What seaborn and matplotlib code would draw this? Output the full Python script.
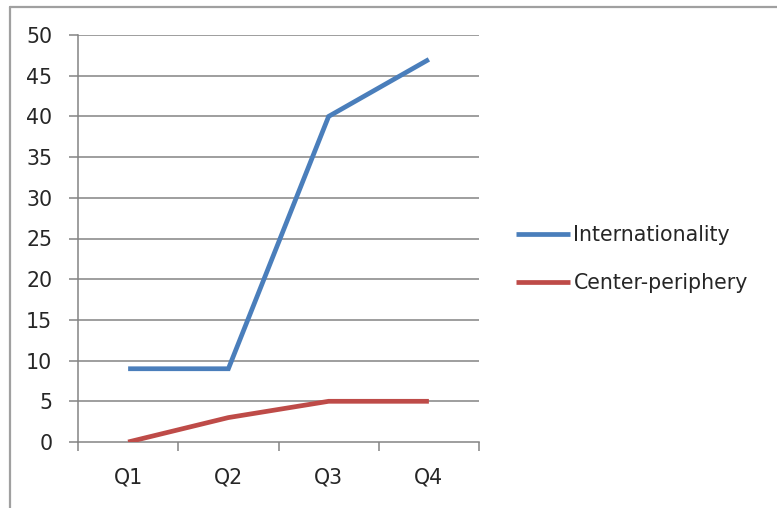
import matplotlib
matplotlib.use("Agg")
import matplotlib.pyplot as plt
from matplotlib.lines import Line2D
from matplotlib.ticker import FixedLocator, NullFormatter
import seaborn as sns
import pandas as pd

# Quarterly scores for the two indicators
quarters = ["Q1", "Q2", "Q3", "Q4"]
internationality = [9, 9, 40, 47]
center_periphery = [0, 3, 5, 5]
series_names = ["Internationality", "Center-periphery"]
y_ticks = [0, 5, 10, 15, 20, 25, 30, 35, 40, 45, 50]

palette = {"Internationality": "#4A7EBB", "Center-periphery": "#BE4B48"}

df = pd.DataFrame({
    "pos": list(range(len(quarters))) * 2,
    "quarter": quarters * 2,
    "value": internationality + center_periphery,
    "series": [series_names[0]] * len(quarters) + [series_names[1]] * len(quarters),
})

sns.set_theme(style="white")
plt.rcParams["font.family"] = ["DejaVu Sans"]

W, H, DPI = 777, 508, 100
fig = plt.figure(figsize=(W / DPI, H / DPI), dpi=DPI)
fig.patch.set_facecolor("white")

# plot area in pixels: x 78..479, y 35..442
left, right, top, bottom = 78, 479, 35, 442
ax = fig.add_axes([left / W, 1 - bottom / H, (right - left) / W, (bottom - top) / H])

grid_color = "#848484"
text_color = "#262626"
fs = 14.8
lw = 3.4
for yv in y_ticks[1:]:
    ax.axhline(yv, color=grid_color, lw=1.1, zorder=1)

sns.lineplot(data=df, x="pos", y="value", hue="series", palette=palette,
             hue_order=series_names, linewidth=lw, ax=ax, legend=False,
             zorder=3)
for ln in ax.lines:
    ln.set_solid_capstyle("butt")
    ln.set_solid_joinstyle("miter")

ax.set_xlim(-0.5, len(quarters) - 0.5)
ax.set_ylim(0, 50)
ax.set_xlabel("")
ax.set_ylabel("")

# category labels centered, ticks at category boundaries
ax.set_xticks(range(len(quarters)))
ax.set_xticklabels(quarters)
ax.xaxis.set_minor_locator(FixedLocator([i - 0.5 for i in range(len(quarters) + 1)]))
ax.xaxis.set_minor_formatter(NullFormatter())
ax.tick_params(axis="x", which="major", length=0, pad=18, labelsize=fs, labelcolor=text_color)
ax.tick_params(axis="x", which="minor", length=6.5, width=1.1, color=grid_color, direction="out")
ax.set_yticks(y_ticks)
ax.tick_params(axis="y", which="major", length=6.5, width=1.1, color=grid_color,
               direction="out", pad=12, labelsize=fs, labelcolor=text_color)
ax.yaxis.set_ticks_position("left")
ax.xaxis.set_ticks_position("bottom")

for side in ["top", "right"]:
    ax.spines[side].set_visible(False)
for side in ["left", "bottom"]:
    ax.spines[side].set_color(grid_color)
    ax.spines[side].set_linewidth(1.1)

# legend on the right
handles = [Line2D([], [], color=palette[n], lw=lw, solid_capstyle="butt") for n in series_names]
fig.legend(handles, series_names, loc="center left",
           bbox_to_anchor=(497 / W, 1 - 259 / H), frameon=False,
           handlelength=2.67, handletextpad=0.15, labelspacing=1.35,
           prop={"size": fs}, labelcolor=text_color)

# outer chart frame (top and left edges visible)
frame_color = "#A0A0A0"
fig.add_artist(Line2D([10 / W, 10 / W], [0, 1 - 7 / H], color=frame_color, lw=1.6,
                      transform=fig.transFigure))
fig.add_artist(Line2D([10 / W, 1], [1 - 7 / H, 1 - 7 / H], color=frame_color, lw=1.6,
                      transform=fig.transFigure))

fig.savefig("out.png", dpi=DPI)
